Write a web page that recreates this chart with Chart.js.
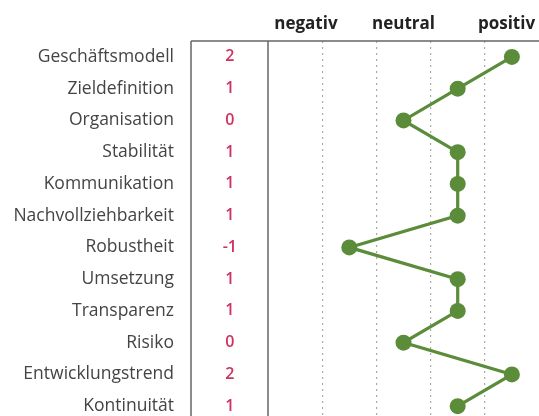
<!DOCTYPE html>
<html>
<head>
<meta charset="utf-8">
<script src="https://cdn.jsdelivr.net/npm/chart.js@4"></script>
<style>
  html, body { margin: 0; padding: 0; background: #fff; overflow: hidden; }
  #wrap { width: 539px; height: 422px; }
</style>
</head>
<body>
<div id="wrap"><canvas id="chart"></canvas></div>
<script>
// data
const categories = ['Geschäftsmodell', 'Zieldefinition', 'Organisation', 'Stabilität', 'Kommunikation',
  'Nachvollziehbarkeit', 'Robustheit', 'Umsetzung', 'Transparenz', 'Risiko', 'Entwicklungstrend', 'Kontinuität']
const scores = [2, 1, 0, 1, 1, 1, -1, 1, 1, 0, 2, 1]
const scoreLabels = scores.map(String)
const headerLabels = ['negativ', 'neutral', 'positiv']
const headerValues = [-1.8, 0, 1.9]
const gridValues = [-1.5, -0.5, 0.5, 1.5]

const green = '#5b8c3a'
const frameColor = '#666'

// no extra room round the axes, the layout is fixed
function noPad(scale) {
  scale.paddingTop = 0
  scale.paddingBottom = 0
  scale.paddingLeft = 0
  scale.paddingRight = 0
}

// frame lines round the value column
const framePlugin = {
  id: 'frame',
  afterDraw(chart) {
    const { ctx, chartArea } = chart
    const yv = chart.scales.yv
    ctx.save()
    ctx.strokeStyle = frameColor
    ctx.lineWidth = 1.5
    ctx.beginPath()
    ctx.moveTo(yv.left, chartArea.top)
    ctx.lineTo(chart.width, chartArea.top)
    ctx.moveTo(yv.left, chartArea.top)
    ctx.lineTo(yv.left, chart.height)
    ctx.moveTo(chartArea.left, chartArea.top)
    ctx.lineTo(chartArea.left, chart.height)
    ctx.stroke()
    ctx.restore()
  }
}

const ctx = document.getElementById('chart').getContext('2d')
const chart = new Chart(ctx, {
  type: 'line',
  data: {
    labels: categories,
    datasets: [
      {
        data: scores,
        borderColor: green,
        backgroundColor: green,
        borderWidth: 3.2,
        pointRadius: 8,
        pointHoverRadius: 8,
        pointBackgroundColor: green,
        pointBorderWidth: 0,
        xAxisID: 'x',
        yAxisID: 'y',
        clip: false
      }
    ]
  },
  plugins: [framePlugin],
  options: {
    indexAxis: 'y',
    responsive: true,
    maintainAspectRatio: false,
    animation: false,
    layout: { padding: 0, autoPadding: false },
    plugins: {
      legend: { display: false },
      tooltip: { enabled: false }
    },
    scales: {
      x: {
        type: 'linear',
        position: 'bottom',
        min: -2.5,
        max: 2.5,
        afterBuildTicks: (scale) => { scale.ticks = gridValues.map(v => ({ value: v })) },
        afterFit: (scale) => { scale.height = 0; noPad(scale) },
        ticks: { display: false },
        grid: { color: '#aaa', lineWidth: 1.2, drawTicks: false },
        border: { display: false, dash: [2, 4] }
      },
      x2: {
        type: 'linear',
        position: 'top',
        min: -2.5,
        max: 2.5,
        afterBuildTicks: (scale) => { scale.ticks = headerValues.map(v => ({ value: v })) },
        afterFit: (scale) => { scale.height = 41; noPad(scale) },
        ticks: {
          autoSkip: false,
          maxRotation: 0,
          padding: 7,
          color: '#222',
          font: { family: 'Open Sans', size: 17, weight: 'bold' },
          callback: (v, i) => headerLabels[i]
        },
        grid: { display: false, drawTicks: false },
        border: { display: false }
      },
      y: {
        type: 'category',
        position: 'left',
        weight: 2,
        offset: true,
        afterFit: (scale) => { scale.width = 191; noPad(scale) },
        ticks: {
          padding: 17,
          color: '#444',
          font: { family: 'Open Sans', size: 17.5 }
        },
        grid: { display: false, drawTicks: false },
        border: { display: false }
      },
      yv: {
        type: 'category',
        position: 'left',
        weight: 1,
        offset: true,
        labels: scoreLabels,
        afterFit: (scale) => { scale.width = 77; noPad(scale) },
        ticks: {
          crossAlign: 'center',
          padding: 31,
          color: '#d0315f',
          font: { family: 'Open Sans', size: 16, weight: '600' }
        },
        grid: { display: false, drawTicks: false },
        border: { display: false }
      }
    }
  }
})
</script>
</body>
</html>
